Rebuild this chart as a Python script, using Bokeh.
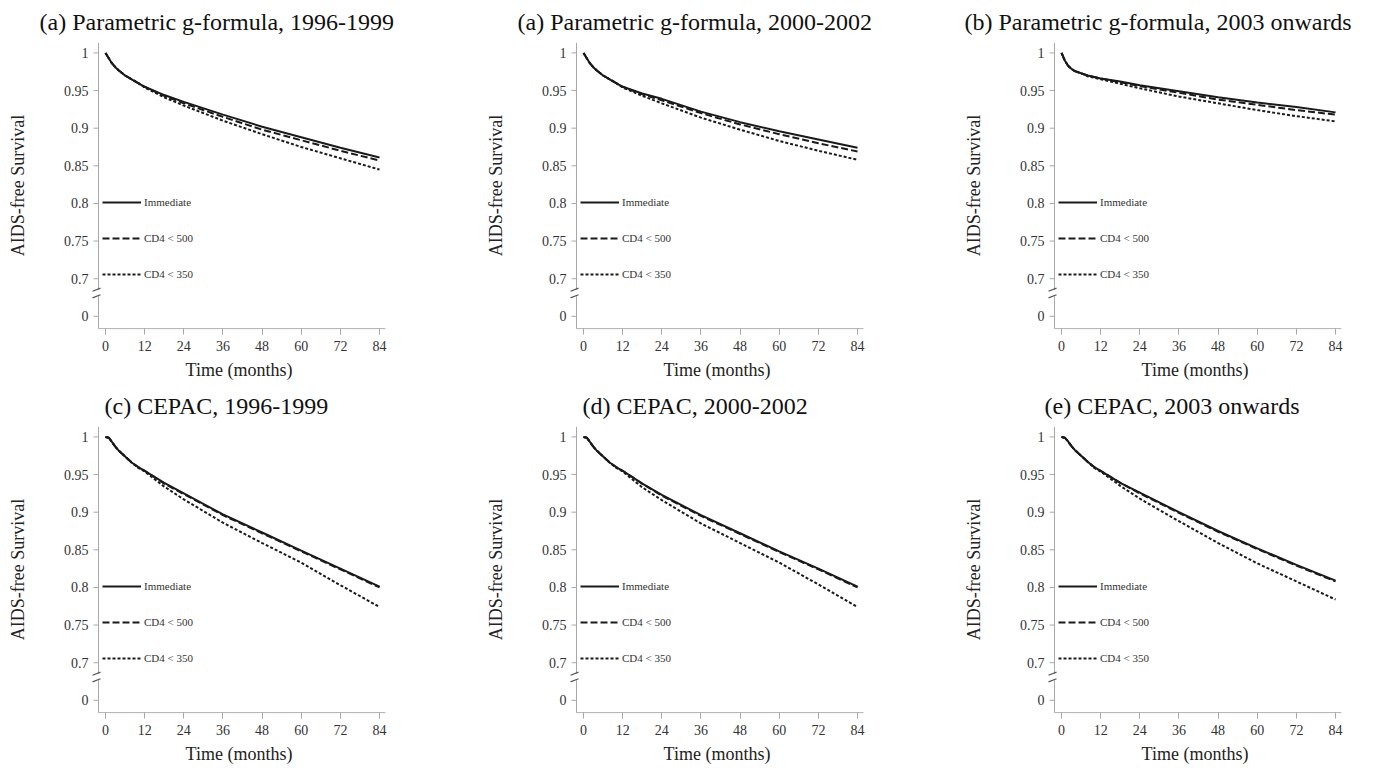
from bokeh.plotting import figure
from bokeh.layouts import column, row
from bokeh.models import FixedTicker, Legend, LegendItem
from bokeh.embed import file_html
from bokeh.resources import INLINE

# ---------------- data ----------------
months = [0, 1, 2, 3, 4, 6, 8, 10, 12, 18, 24, 36, 48, 60, 72, 84]

panel_titles = [
    "(a)  Parametric g-formula, 1996-1999",
    "(a)  Parametric g-formula, 2000-2002",
    "(b)  Parametric g-formula, 2003 onwards",
    "(c)  CEPAC, 1996-1999",
    "(d)  CEPAC, 2000-2002",
    "(e)  CEPAC, 2003 onwards",
]

series_labels = ["Immediate", "CD4 < 500", "CD4 < 350"]

immediate = [
    [1.000, 0.993, 0.986, 0.981, 0.977, 0.970, 0.965, 0.960, 0.955, 0.944, 0.935, 0.918, 0.902, 0.888, 0.874, 0.861],
    [1.000, 0.993, 0.986, 0.981, 0.977, 0.970, 0.965, 0.960, 0.955, 0.946, 0.939, 0.922, 0.908, 0.896, 0.885, 0.874],
    [1.000, 0.990, 0.983, 0.979, 0.976, 0.973, 0.970, 0.968, 0.966, 0.962, 0.957, 0.949, 0.941, 0.934, 0.928, 0.921],
    [1.000, 0.999, 0.993, 0.987, 0.982, 0.974, 0.966, 0.960, 0.955, 0.939, 0.925, 0.897, 0.873, 0.849, 0.825, 0.801],
    [1.000, 0.999, 0.993, 0.987, 0.982, 0.974, 0.966, 0.960, 0.955, 0.938, 0.923, 0.896, 0.872, 0.848, 0.825, 0.801],
    [1.000, 0.999, 0.994, 0.988, 0.983, 0.975, 0.967, 0.960, 0.955, 0.939, 0.926, 0.900, 0.875, 0.852, 0.830, 0.809],
]
cd4_500 = [
    [1.000, 0.993, 0.986, 0.981, 0.977, 0.970, 0.965, 0.960, 0.955, 0.943, 0.933, 0.915, 0.898, 0.884, 0.870, 0.857],
    [1.000, 0.993, 0.986, 0.981, 0.977, 0.970, 0.965, 0.960, 0.955, 0.945, 0.937, 0.920, 0.905, 0.892, 0.880, 0.869],
    [1.000, 0.990, 0.983, 0.979, 0.976, 0.973, 0.970, 0.968, 0.966, 0.961, 0.956, 0.947, 0.938, 0.931, 0.924, 0.918],
    [1.000, 0.999, 0.993, 0.987, 0.982, 0.974, 0.966, 0.960, 0.955, 0.938, 0.924, 0.896, 0.872, 0.848, 0.824, 0.800],
    [1.000, 0.999, 0.993, 0.987, 0.982, 0.974, 0.966, 0.960, 0.955, 0.938, 0.922, 0.895, 0.871, 0.847, 0.824, 0.800],
    [1.000, 0.999, 0.994, 0.988, 0.983, 0.975, 0.967, 0.960, 0.955, 0.939, 0.925, 0.899, 0.874, 0.851, 0.829, 0.808],
]
cd4_350 = [
    [1.000, 0.993, 0.986, 0.981, 0.977, 0.970, 0.965, 0.960, 0.954, 0.941, 0.930, 0.910, 0.892, 0.875, 0.860, 0.845],
    [1.000, 0.993, 0.986, 0.981, 0.977, 0.970, 0.965, 0.960, 0.954, 0.943, 0.933, 0.914, 0.898, 0.883, 0.870, 0.858],
    [1.000, 0.990, 0.983, 0.979, 0.976, 0.973, 0.969, 0.967, 0.965, 0.959, 0.953, 0.942, 0.933, 0.924, 0.916, 0.909],
    [1.000, 0.999, 0.993, 0.987, 0.982, 0.974, 0.966, 0.959, 0.954, 0.934, 0.917, 0.886, 0.859, 0.833, 0.803, 0.774],
    [1.000, 0.999, 0.993, 0.987, 0.982, 0.974, 0.966, 0.959, 0.954, 0.933, 0.916, 0.885, 0.859, 0.833, 0.804, 0.774],
    [1.000, 0.999, 0.994, 0.988, 0.983, 0.975, 0.967, 0.959, 0.954, 0.935, 0.918, 0.888, 0.859, 0.832, 0.808, 0.784],
]

x_ticks = [0, 12, 24, 36, 48, 60, 72, 84]
y_tick_values = [0.65, 0.7, 0.75, 0.8, 0.85, 0.9, 0.95, 1.0]   # 0.65 stands for the broken-axis "0"
y_tick_labels = ["0", "0.7", "0.75", "0.8", "0.85", "0.9", "0.95", "1"]
break_position = 0.681

# ---------------- layout / style ----------------
FONT = "Liberation Serif"
INK = "#1a1a1a"
AXIS_GREY = "#a8a8a8"
FRAME_W, FRAME_H = 295, 288
X0, X1 = -4.3, -4.3 + 295 / 3.262
Y0, Y1 = 0.6325, 0.6325 + 288 / 752.6
PXX = FRAME_W / (X1 - X0)
PXY = FRAME_H / (Y1 - Y0)
AX_X = -2.15            # position of drawn y-axis line (months)
AX_Y = Y0 + 0.8 / PXY   # position of drawn x-axis line
AX_XEND = 85.8
AX_YTOP = 1.0133

dashes = ["solid", "7 3", "3 2"]
title_offsets = [-52, -52, -83, 13, 13, -3]
right_borders = [92, 92, 31, 92, 92, 31]


def make_panel(i):
    p = figure(frame_width=FRAME_W, frame_height=FRAME_H,
               x_range=(X0, X1), y_range=(Y0, Y1),
               output_backend="svg", toolbar_location=None,
               min_border_left=91, min_border_right=right_borders[i],
               min_border_top=41, min_border_bottom=55,
               background_fill_color="white", border_fill_color="white",
               outline_line_color=None)
    p.grid.visible = False

    p.title.text = panel_titles[i]
    p.title.text_font = FONT
    p.title.text_font_size = "24px"
    p.title.text_font_style = "normal"
    p.title.text_color = "#111111"
    p.title.align = "left"
    p.title.offset = title_offsets[i]
    p.title.standoff = 12
    p.title.vertical_align = "middle"

    # x axis (ticks + labels from bokeh, line drawn below)
    xa = p.xaxis[0]
    xa.ticker = FixedTicker(ticks=x_ticks)
    xa.axis_line_color = None
    xa.major_tick_line_color = AXIS_GREY
    xa.major_tick_out = 5
    xa.major_tick_in = 1
    xa.minor_tick_line_color = None
    xa.major_label_standoff = 6
    xa.major_label_text_font = FONT
    xa.major_label_text_font_size = "14px"
    xa.major_label_text_color = "#333333"
    xa.axis_label = "Time (months)"
    xa.axis_label_text_font = FONT
    xa.axis_label_text_font_size = "18px"
    xa.axis_label_text_font_style = "normal"
    xa.axis_label_text_color = "#222222"
    xa.axis_label_standoff = 6

    # y axis (labels from bokeh, line/ticks drawn below because of the break)
    ya = p.yaxis[0]
    ya.ticker = FixedTicker(ticks=y_tick_values)
    ya.major_label_overrides = dict(zip(y_tick_values, y_tick_labels))
    ya.axis_line_color = None
    ya.major_tick_line_color = None
    ya.minor_tick_line_color = None
    ya.major_tick_out = 0
    ya.major_tick_in = 0
    ya.major_label_standoff = 3
    ya.major_label_text_font = FONT
    ya.major_label_text_font_size = "14px"
    ya.major_label_text_color = "#333333"
    ya.axis_label = "AIDS-free Survival"
    ya.axis_label_text_font = FONT
    ya.axis_label_text_font_size = "18px"
    ya.axis_label_text_font_style = "normal"
    ya.axis_label_text_color = "#222222"
    ya.axis_label_standoff = 33

    # drawn axis lines with break
    gap = 3.3 / PXY
    p.segment(x0=[AX_X, AX_X, AX_X], y0=[AX_Y, break_position + gap, AX_Y],
              x1=[AX_X, AX_X, AX_XEND], y1=[break_position - gap, AX_YTOP, AX_Y],
              line_color=AXIS_GREY, line_width=1)
    tick_len = 5 / PXX
    p.segment(x0=[AX_X - tick_len] * len(y_tick_values), y0=y_tick_values,
              x1=[AX_X] * len(y_tick_values), y1=y_tick_values,
              line_color=AXIS_GREY, line_width=1)
    bx0 = AX_X - 6 / PXX
    bx1 = AX_X + 2 / PXX
    dy = 1.6 / PXY
    p.segment(x0=[bx0, bx0], y0=[break_position - gap - dy, break_position + gap - dy],
              x1=[bx1, bx1], y1=[break_position - gap + dy, break_position + gap + dy],
              line_color="#555555", line_width=1.2)

    renderers = []
    for vals, dash in zip([immediate[i], cd4_500[i], cd4_350[i]], dashes):
        r = p.line(months, vals, line_color=INK, line_width=2, line_dash=dash)
        renderers.append(r)

    legend = Legend(items=[LegendItem(label=lab, renderers=[r])
                           for lab, r in zip(series_labels, renderers)],
                    location=(11, 45), orientation="vertical",
                    glyph_width=39, glyph_height=20, label_height=20,
                    spacing=16, padding=0, margin=0, label_standoff=3,
                    background_fill_alpha=0, border_line_color=None,
                    label_text_font=FONT, label_text_font_size="11px",
                    label_text_color="#333333")
    p.add_layout(legend)
    return p


panels = [make_panel(i) for i in range(6)]
layout = column(row(*panels[:3], spacing=0), row(*panels[3:], spacing=0), spacing=0)

with open("out.html", "w") as f:
    f.write(file_html(layout, INLINE))
